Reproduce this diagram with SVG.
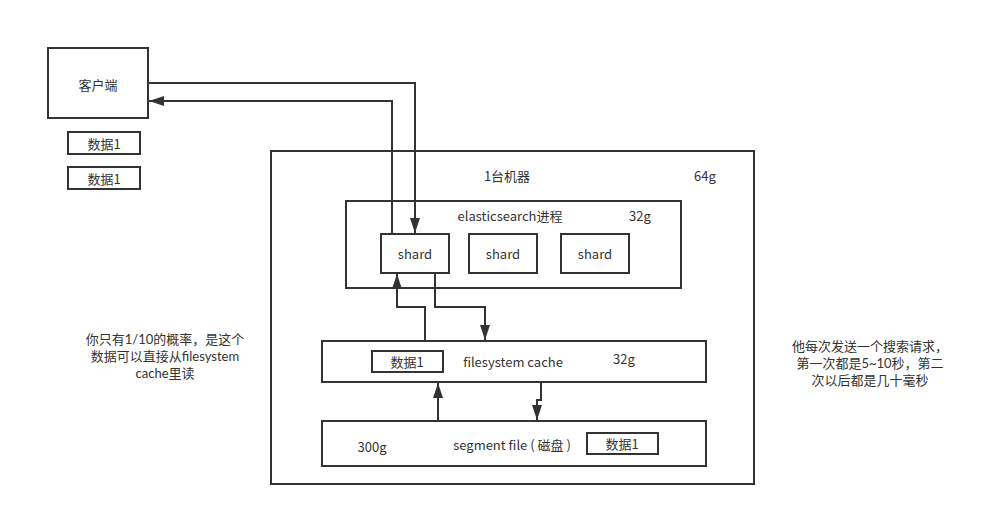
<svg xmlns="http://www.w3.org/2000/svg" width="985" height="516" viewBox="0 0 985 516">
<style>
.box{fill:#fff;stroke:#333;stroke-width:2}
.ln{fill:none;stroke:#333;stroke-width:2}
text{font-family:"Noto Sans CJK SC","Liberation Sans",sans-serif;font-size:13px;fill:#333;text-anchor:middle;dominant-baseline:central}
.note{font-family:Lato,"Noto Sans CJK SC",sans-serif}
</style>
<defs>
<marker id="ah" markerUnits="userSpaceOnUse" markerWidth="16" markerHeight="12" refX="15" refY="5" orient="auto">
<path d="M0,0 L15,5 L0,10 Z" fill="#333"/>
</marker>
</defs>
<rect width="985" height="516" fill="#fff"/>
<g id="client"><rect class="box" x="48" y="48" width="100" height="70"/><text x="98" y="84">客户端</text></g>
<g id="data-a"><rect class="box" x="68" y="132" width="72" height="22"/><text x="104" y="143">数据1</text></g>
<g id="data-b"><rect class="box" x="68" y="167" width="72" height="22"/><text x="104" y="178">数据1</text></g>
<g id="machine"><rect class="box" x="271" y="151" width="483" height="333"/><text x="507" y="175">1台机器</text><text x="705" y="175">64g</text></g>
<g id="es"><rect class="box" x="346" y="201" width="335" height="87"/><text x="510" y="215">elasticsearch进程</text><text x="640" y="215">32g</text></g>
<g id="shard1"><rect class="box" x="381" y="234" width="68" height="39"/><text x="415" y="253">shard</text></g>
<g id="shard2"><rect class="box" x="469" y="234" width="68" height="39"/><text x="503" y="253">shard</text></g>
<g id="shard3"><rect class="box" x="561" y="234" width="68" height="39"/><text x="595" y="253">shard</text></g>
<g id="fscache"><rect class="box" x="322" y="341" width="384" height="41"/><text x="513" y="361">filesystem cache</text><text x="624" y="358">32g</text>
<rect class="box" x="372" y="351" width="71" height="21"/><text x="407" y="361">数据1</text></g>
<g id="segment"><rect class="box" x="322" y="421" width="384" height="45"/><text x="372" y="446">300g</text><text x="512" y="444">segment file ( 磁盘 )</text>
<rect class="box" x="587" y="433" width="71" height="21"/><text x="622" y="443">数据1</text></g>
<g id="notes">
<text class="note" x="165" y="339">你只有1/10的概率，是这个</text>
<text class="note" x="165" y="356">数据可以直接从filesystem</text>
<text class="note" x="165" y="373">cache里读</text>
<text class="note" x="870" y="346">他每次发送一个搜索请求，</text>
<text class="note" x="870" y="363">第一次都是5~10秒，第二</text>
<text class="note" x="870" y="380">次以后都是几十毫秒</text>
</g>
<g id="connectors">
<path class="ln" d="M148 83 H415 V233" marker-end="url(#ah)"/>
<path class="ln" d="M392 234 V101 H149" marker-end="url(#ah)"/>
<path class="ln" d="M425 341 V307 H397 V274" marker-end="url(#ah)"/>
<path class="ln" d="M435 273 V307 H485 V340" marker-end="url(#ah)"/>
<path class="ln" d="M438 421 V383" marker-end="url(#ah)"/>
<path class="ln" d="M541 382 V400 H537 V420" marker-end="url(#ah)"/>
</g>
</svg>
